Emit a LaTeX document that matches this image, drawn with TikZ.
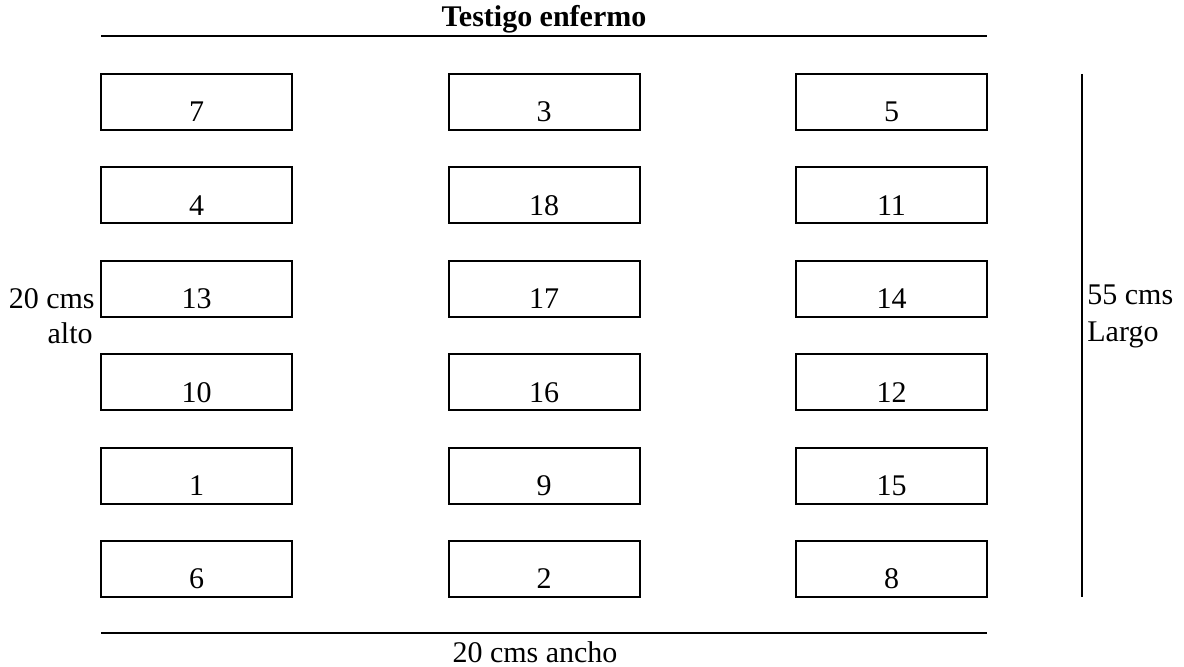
\documentclass[tikz,border=0pt]{standalone}
\usepackage{fontspec}
\setmainfont{Liberation Serif}
\usetikzlibrary{positioning}

\begin{document}
\begin{tikzpicture}[x=0.5pt, y=-0.5pt,
    font=\fontsize{15}{18}\selectfont, node distance=18.7pt and 78.25pt,
    plot/.style={draw, line width=1pt, outer sep=0pt, inner sep=2pt, minimum width=95.5pt, minimum height=28pt, text height=20pt, text depth=0pt},
    lbl/.style={inner sep=0pt},
    rule/.style={line width=1pt}]
  \useasboundingbox (0,0) rectangle (1184,667);
  % parcelas, fila por fila
  \node[plot] (b7) at (196.5,102) {7};
  \node[plot, right=of b7] (b3) {3};
  \node[plot, right=of b3] (b5) {5};
  \node[plot, below=of b7] (b4) {4};
  \node[plot, right=of b4] (b18) {18};
  \node[plot, right=of b18] (b11) {11};
  \node[plot, below=of b4] (b13) {13};
  \node[plot, right=of b13] (b17) {17};
  \node[plot, right=of b17] (b14) {14};
  \node[plot, below=of b13] (b10) {10};
  \node[plot, right=of b10] (b16) {16};
  \node[plot, right=of b16] (b12) {12};
  \node[plot, below=of b10] (b1) {1};
  \node[plot, right=of b1] (b9) {9};
  \node[plot, right=of b9] (b15) {15};
  \node[plot, below=of b1] (b6) {6};
  \node[plot, right=of b6] (b2) {2};
  \node[plot, right=of b2] (b8) {8};
  % testigo arriba
  \node[lbl, font=\fontsize{15}{18}\selectfont\bfseries, anchor=base] (testigo) at (544,27) {Testigo enfermo};
  \coordinate (tw) at (b7.west |- 0,36);
  \coordinate (te) at (b5.east |- 0,36);
  \draw[rule] (tw) -- (te);
  % ancho
  \coordinate (aw) at (b6.west |- 0,633);
  \coordinate (ae) at (b8.east |- 0,633);
  \draw[rule] (aw) -- (ae);
  \node[lbl, anchor=base] (ancho) at (535,663) {20 cms ancho};
  % alto
  \node[lbl, left=3pt of b13.base west, anchor=base east] (alto) {20 cms};
  \node[lbl, anchor=base east] (alto2) at ([xshift=-1pt, yshift=-17.5pt]alto.base east) {alto};
  % largo
  \coordinate (ln) at (1082,0 |- b5.north);
  \coordinate (ls) at (1082,0 |- b8.south);
  \draw[rule] (ln) -- (ls);
  \node[lbl, anchor=base west] (largo) at (1087,305) {55 cms};
  \node[lbl, anchor=base west] (largo2) at (1087,342) {Largo};
\end{tikzpicture}
\end{document}
